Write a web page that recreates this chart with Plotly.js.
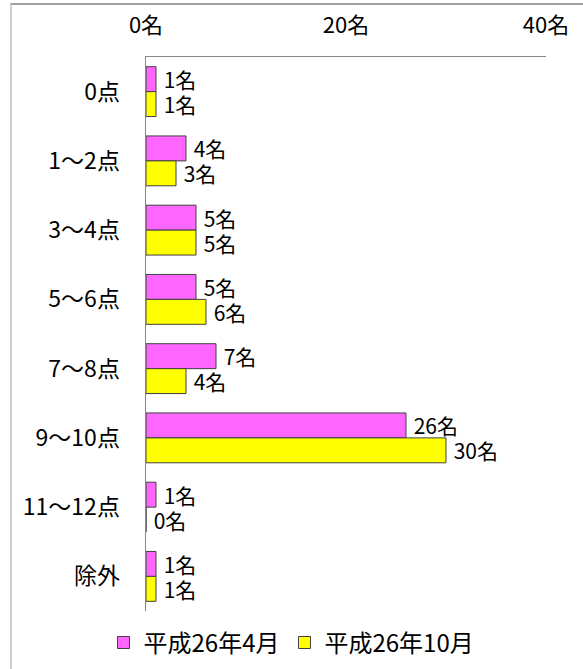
<!DOCTYPE html>
<html><head><meta charset="utf-8">
<script src="https://cdn.plot.ly/plotly-3.0.1.min.js"></script>
<style>
html,body{margin:0;padding:0;background:#fff;}
#frame{position:absolute;left:10px;top:3px;width:600px;height:700px;border-left:2px solid #d0d0d0;border-top:2px solid #a0a0a0;box-sizing:border-box;}
#chart{position:absolute;left:0;top:0;width:583px;height:669px;}
</style></head>
<body>
<div id="frame"></div>
<div id="chart"></div>
<script>
const categories = ["0点","1〜2点","3〜4点","5〜6点","7〜8点","9〜10点","11〜12点","除外"];
const seriesNames = ["平成26年4月","平成26年10月"];
const april = [1,4,5,5,7,26,1,1];
const october = [1,3,5,6,4,30,0,1];
const tickVals = [0,20,40];
const tickText = ["0名","20名","40名"];

const font = "'Noto Sans CJK JP', 'Noto Sans', sans-serif";
function mk(name, vals, color){
  return {type:'bar', orientation:'h', name:name, y:categories, x:vals,
    marker:{color:color, line:{color:'#404040', width:1}},
    text:vals.map(v=>' '+v+'名'), textposition:'outside', cliponaxis:false,
    textfont:{size:21, color:'#000', family:font}, constraintext:'none', hoverinfo:'none'};
}
const data = [mk(seriesNames[0], april, '#FF66FF'), mk(seriesNames[1], october, '#FFFF00')];
const layout = {
  width:583, height:669,
  margin:{l:146, r:37, t:57, b:58},
  paper_bgcolor:'rgba(0,0,0,0)', plot_bgcolor:'rgba(0,0,0,0)',
  barmode:'group', bargap:0.28, bargroupgap:0,
  font:{family:font, color:'#000'},
  xaxis:{side:'top', range:[0,40], tickvals:tickVals, ticktext:tickText, showgrid:false, zeroline:false,
    showline:true, linecolor:'#868686', linewidth:1.5, ticks:'', ticklabelstandoff:14, tickfont:{size:22}},
  yaxis:{autorange:'reversed', showgrid:false, zeroline:false, showline:true, linecolor:'#868686', linewidth:1.5,
    ticks:'', ticklabelstandoff:20, tickfont:{size:23}},
  showlegend:true,
  legend:{orientation:'h', xref:'container', yref:'container', x:0.5, xanchor:'center', y:0.039, yanchor:'middle',
    font:{size:24}, itemwidth:30, tracegroupgap:0, bgcolor:'rgba(0,0,0,0)'}
};
Plotly.newPlot('chart', data, layout, {displayModeBar:false, staticPlot:true});
</script>
</body></html>
